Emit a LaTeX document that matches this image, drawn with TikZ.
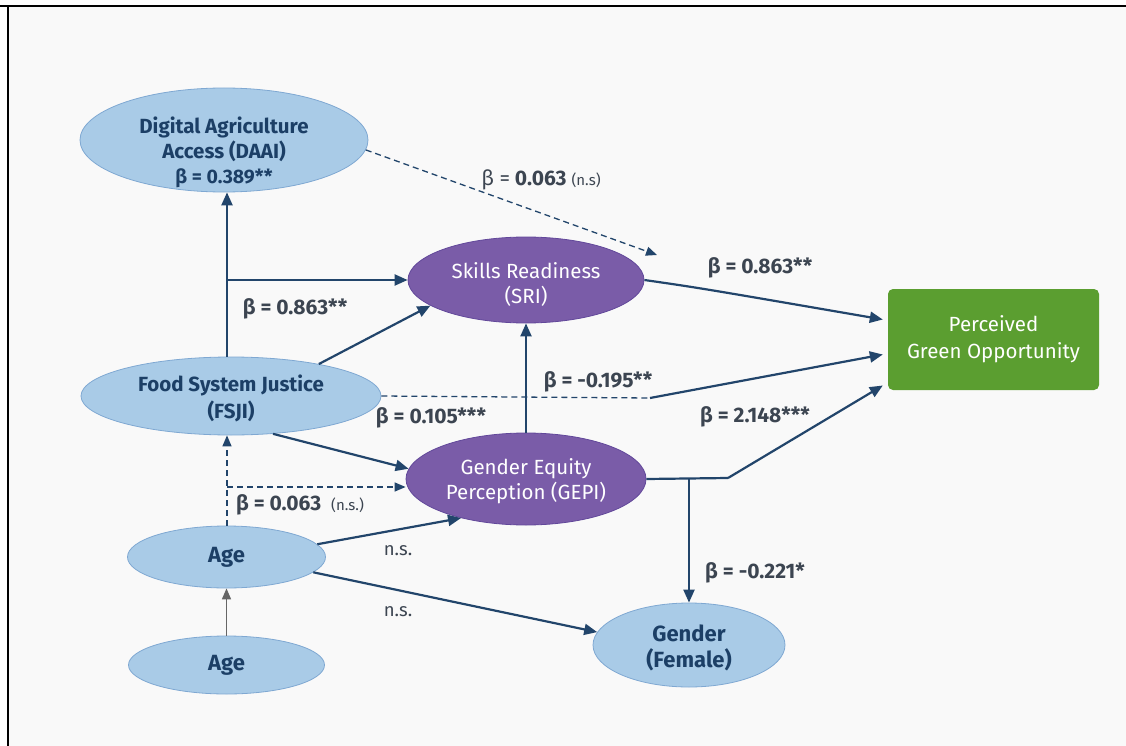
\documentclass[tikz,border=0pt]{standalone}
\usepackage{fontspec}
\setmainfont{Fira Sans}
\usetikzlibrary{shapes.geometric,arrows.meta,calc}
\definecolor{bgc}{HTML}{F9F9F9}
\definecolor{lblue}{HTML}{A9CBE7}
\definecolor{lbluebd}{HTML}{7FA8D2}
\definecolor{purp}{HTML}{7A5CA8}
\definecolor{purpbd}{HTML}{62489A}
\definecolor{grn}{HTML}{5B9E30}
\definecolor{navy}{HTML}{1C3F66}
\definecolor{linec}{HTML}{22456B}
\definecolor{lbl}{HTML}{3C4551}
\tikzset{
  lnode/.style={ellipse, fill=lblue, draw=lbluebd, line width=0.8pt, inner sep=0pt},
  pnode/.style={ellipse, fill=purp, draw=purpbd, line width=0.8pt, inner sep=0pt},
  ltext/.style={inner sep=0pt, text=navy, align=center, font=\fontsize{20.5}{25}\selectfont\bfseries},
  ptext/.style={inner sep=0pt, text=white, align=center, font=\fontsize{20.5}{25}\selectfont},
  gnode/.style={rectangle, rounded corners=5pt, fill=grn, inner sep=0pt,
    text=white, align=center, font=\fontsize{20.5}{27}\selectfont},
  arr/.style={draw=linec, line width=2.2pt, -{Triangle[length=13pt,width=11pt]}},
  plain/.style={draw=linec, line width=2.2pt},
  darr/.style={draw=linec, line width=1.3pt, dash pattern=on 6pt off 4pt, -{Triangle[length=11pt,width=9pt]}},
  dline/.style={draw=linec, line width=1.3pt, dash pattern=on 6pt off 4pt},
  garr/.style={draw=gray!80!black, line width=1.6pt, -{Triangle[length=11pt,width=9pt]}},
  lab/.style={text=lbl, font=\fontsize{21}{23}\selectfont\bfseries, inner sep=0pt},
  nsf/.style={text=lbl, font=\fontsize{18.5}{20}\selectfont, inner sep=0pt},
}
\newcommand{\nsmall}[1]{{\mdseries\fontsize{15}{17}\selectfont #1}}
\begin{document}
\begin{tikzpicture}[x=1pt,y=-1pt]
\useasboundingbox (0,0) rectangle (1126,746);
\fill[white] (0,0) rectangle (1126,746);
\fill[bgc] (8,6) rectangle (1126,746);
\draw[black, line width=2pt] (0,6) -- (1126,6);
\draw[black, line width=2.5pt] (8,6) -- (8,746);

% shapes
\node[lnode, minimum width=288pt, minimum height=104pt] (daai) at (224,140) {};
\node[pnode, minimum width=236pt, minimum height=86pt] (sri) at (526,280) {};
\node[gnode, minimum width=211pt, minimum height=101pt] (pgo) at (993.5,339.5)
  {Perceived\\Green Opportunity};
\node[lnode, minimum width=300pt, minimum height=78pt] (fsji) at (231,396) {};
\node[pnode, minimum width=240pt, minimum height=92pt] (gepi) at (526,479) {};
\node[lnode, minimum width=198pt, minimum height=62pt] (age) at (226.5,557) {};
\node[lnode, minimum width=196pt, minimum height=58pt] (age2) at (226.5,665) {};
\node[lnode, minimum width=192pt, minimum height=84pt] (gender) at (689,645) {};

% texts
\node[ltext] (daait) at (224,152)
  {Digital Agriculture\\Access (DAAI)\\{\fontsize{19.5}{21}\selectfont β = 0.389**}};
\node[ptext] (srit) at (526,284) {Skills Readiness\\(SRI)};
\node[ltext, font=\fontsize{20.5}{27}\selectfont\bfseries] (fsjit) at (231,398.5) {Food System Justice\\(FSJI)};
\node[ptext] (gepit) at (526,481) {Gender Equity\\Perception (GEPI)};
\node[ltext, font=\fontsize{22}{25}\selectfont\bfseries] (aget) at (226.5,557) {Age};
\node[ltext, font=\fontsize{22}{25}\selectfont\bfseries] (age2t) at (226.5,665) {Age};
\node[ltext, font=\fontsize{22}{26}\selectfont\bfseries] (gendert) at (689,648) {Gender\\(Female)};

% coordinates
\coordinate (vx) at (227,0);
\coordinate (dsend) at (657,255);
\coordinate (fb) at (650,398);
\coordinate (gb) at (728,478);
\coordinate (gj) at (689,478);
\coordinate (dj) at (227,487);

% connectors
\draw[arr] (fsji.north -| vx) -- (daai.south -| vx);
\draw[arr] (vx |- sri.west) -- (sri.west);
\draw[arr] (fsji.20) -- (sri.195);
\draw[darr] (daai.-4) -- (dsend);
\draw[arr] (sri.east) .. controls (700,288) .. ($(pgo.west)+(-5,-20)$);
\draw[dline] (fsji.east) -- (fb);
\draw[arr] (fb) -- ($(pgo.west)+(-5,15)$);
\draw[arr] (gepi.north) -- (sri.south);
\draw[arr] (fsji.-42) -- (gepi.175);
\draw[plain] (gepi.east) -- (gb);
\draw[arr] (gb) -- ($(pgo.west)+(-5,46)$);
\draw[arr] (gj) -- (gender.north);
\draw[darr] (age.north -| vx) -- (fsji.south -| vx);
\draw[darr] (dj) -- (gepi.west |- dj);
\draw[arr] (age.8) -- (gepi.211);
\draw[arr] (age.-10) -- (gender.172);
\draw[garr] (age2.north) -- (age.south);

% labels
\node[lab] (l1) at (295,309) {β = 0.863**};
\node[lab] (l2) at (541,180) {{\mdseries β =} 0.063 \nsmall{(n.s)}};
\node[lab] (l3) at (760,268) {β = 0.863**};
\node[lab] (l4) at (598,382) {β = -0.195**};
\node[lab] (l5) at (431,418) {β = 0.105***};
\node[lab] (l6) at (755,417) {β = 2.148***};
\node[lab] (l7) at (300,505) {β = 0.063 \ \nsmall{(n.s.)}};
\node[nsf] (l8) at (398,551) {n.s.};
\node[nsf] (l9) at (398,612) {n.s.};
\node[lab] (l10) at (755,573) {β = -0.221*};
\end{tikzpicture}
\end{document}
